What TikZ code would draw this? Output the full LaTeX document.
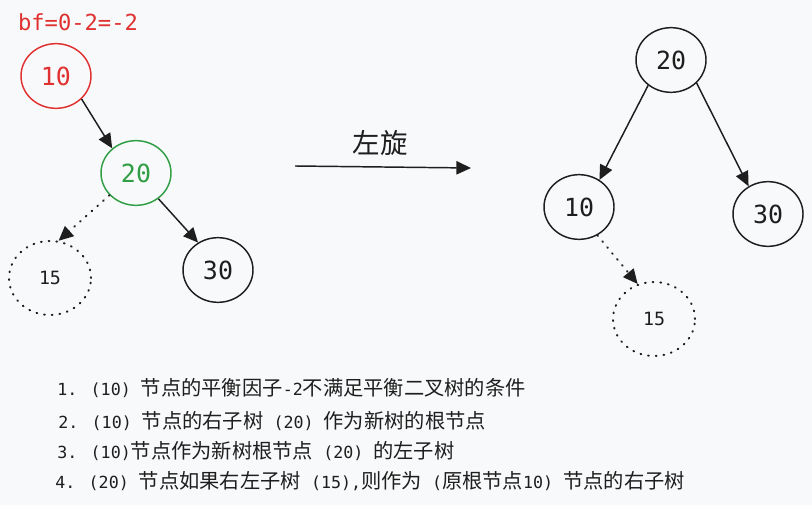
\documentclass[tikz,border=0pt]{standalone}
\usepackage{fontspec}
\setmainfont{DejaVu Sans Mono}
\newfontfamily\cjk{Noto Sans CJK SC}
\usetikzlibrary{arrows.meta,shapes.geometric}
\definecolor{ink}{HTML}{1E1E1E}
\definecolor{paper}{HTML}{F8F9FA}
\definecolor{hot}{HTML}{E03131}
\definecolor{ok}{HTML}{2F9E44}
% Chinese runs inside the monospaced notes
\newcommand\zh[1]{{\fontsize{15.2}{18}\cjk #1}}

\begin{document}
\begin{tikzpicture}[x=0.75pt,y=-0.75pt,
  tnode/.style={ellipse,draw=ink,line width=1.1pt,minimum width=52.5pt,
    minimum height=48.5pt,inner sep=0pt,text=ink,
    font=\fontsize{18.7}{20}\selectfont},
  ghost/.style={tnode,minimum width=61.5pt,minimum height=55.5pt,
    line width=1.5pt,dash pattern=on 0.6pt off 5.2pt,line cap=round,
    font=\fontsize{13.7}{15}\selectfont},
  link/.style={draw=ink,line width=1.1pt,-{Triangle[length=11pt,width=10pt]}},
  hint/.style={link,line width=1.5pt,dash pattern=on 0.6pt off 5.2pt,line cap=round},
  note/.style={anchor=west,inner sep=0pt,text=ink,
    font=\fontsize{12.5}{16}\selectfont}]

\fill[paper] (0,0) rectangle (812,505);

% tree before the rotation
\node[text=hot,font=\fontsize{16.6}{18}\selectfont] (bf) at (78,22) {bf=0-2=-2};
\node[tnode,draw=hot,text=hot] (a10) at (56,76) {10};
\node[tnode,draw=ok,text=ok] (a20) at (136,173) {20};
\node[ghost] (a15) at (50,278) {15};
\node[tnode] (a30) at (218,270) {30};

\draw[link] (a10.-42) -- (a20.134);
\draw[link] (a20.-49) -- (a30.126);
\draw[hint] (a20.-140) -- (a15.77);

% rotation arrow
\coordinate (rs) at (295,166);
\coordinate (re) at (471,168);
\draw[link] (rs) -- (re);
\node[text=ink,font=\fontsize{20.6}{22}\cjk] (rot) at (380,143) {左旋};

% tree after the rotation
\node[tnode] (b20) at (671,60) {20};
\node[tnode] (b10) at (579,207) {10};
\node[tnode] (b30) at (768,214) {30};
\node[ghost] (b15) at (654,319) {15};

\draw[link] (b20.-132) -- (b10.53);
\draw[link] (b20.-42) -- (b30.125);
\draw[hint] (b10.-57) -- (b15.115);

% explanation
\node[note] (l1) at (57,388) {1. (10) \zh{节点的平衡因子}-2\zh{不满足平衡二叉树的条件}};
\node[note] (l2) at (58,421) {2. (10) \zh{节点的右子树} (20) \zh{作为新树的根节点}};
\node[note] (l3) at (57,451) {3. (10)\zh{节点作为新树根节点} (20) \zh{的左子树}};
\node[note] (l4) at (55,481) {4. (20) \zh{节点如果右左子树} (15),\zh{则作为} (\zh{原根节点}10) \zh{节点的右子树}};
\end{tikzpicture}
\end{document}
